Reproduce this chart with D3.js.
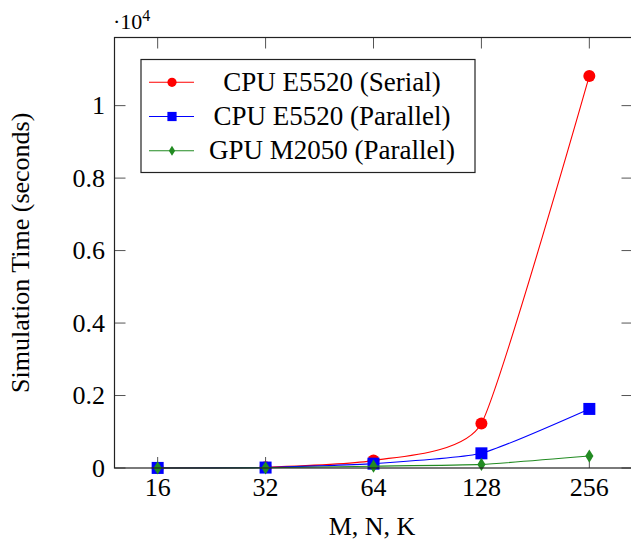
<!DOCTYPE html>
<html>
<head>
<meta charset="utf-8">
<script src="https://cdn.jsdelivr.net/npm/d3@7"></script>
<style>
  body { margin: 0; background: white; }
  text { font-family: "Liberation Serif", "DejaVu Serif", serif; fill: #000; }
</style>
</head>
<body>
<div id="container"></div>
<script>
var w = 631;
var h = 542;

// data (seconds)
var sizes = [16, 32, 64, 128, 256];
var cpuSerial = [3, 20, 210, 1230, 10820];
var cpuParallel = [2, 12, 120, 405, 1630];
var gpuParallel = [1, 5, 50, 100, 330];
var yTicks = [0, 2000, 4000, 6000, 8000, 10000];
var seriesNames = ["CPU E5520 (Serial)", "CPU E5520 (Parallel)", "GPU M2050 (Parallel)"];

var series = [
  {name: seriesNames[0], values: cpuSerial, color: "#ff0000", mark: "circle"},
  {name: seriesNames[1], values: cpuParallel, color: "#0000ff", mark: "square"},
  {name: seriesNames[2], values: gpuParallel, color: "#228b22", mark: "diamond"}
];

var axL = 114.5, axR = 632.5, axT = 37.5, axB = 468;

var svg = d3.select("#container").append("svg")
  .attr("width", w).attr("height", h);

var x = d3.scaleLinear()
  .domain([Math.log2(16) - 0.4, Math.log2(256) + 0.4])
  .range([axL, axR]);
var y = d3.scaleLinear()
  .domain([0, 11880])
  .range([axB, axT]);

// ticks inside on all four sides
var g = svg.append("g");
var tickLen = 11;
g.selectAll("line.xb").data(sizes).enter().append("line")
  .attr("x1", function(d) { return x(Math.log2(d)); })
  .attr("x2", function(d) { return x(Math.log2(d)); })
  .attr("y1", axB).attr("y2", axB - tickLen)
  .attr("stroke", "#555").attr("stroke-width", 1);
g.selectAll("line.xt").data(sizes).enter().append("line")
  .attr("x1", function(d) { return x(Math.log2(d)); })
  .attr("x2", function(d) { return x(Math.log2(d)); })
  .attr("y1", axT).attr("y2", axT + tickLen)
  .attr("stroke", "#555").attr("stroke-width", 1);
g.selectAll("line.yl").data(yTicks).enter().append("line")
  .attr("x1", axL).attr("x2", axL + tickLen)
  .attr("y1", function(d) { return y(d); })
  .attr("y2", function(d) { return y(d); })
  .attr("stroke", "#555").attr("stroke-width", 1);
g.selectAll("line.yr").data(yTicks).enter().append("line")
  .attr("x1", axR).attr("x2", axR - tickLen)
  .attr("y1", function(d) { return y(d); })
  .attr("y2", function(d) { return y(d); })
  .attr("stroke", "#555").attr("stroke-width", 1);

// tick labels
g.selectAll("text.xl").data(sizes).enter().append("text")
  .attr("x", function(d) { return x(Math.log2(d)); })
  .attr("y", 496)
  .attr("text-anchor", "middle")
  .attr("font-size", 26)
  .text(function(d) { return d; });
g.selectAll("text.yl").data(yTicks).enter().append("text")
  .attr("x", 105)
  .attr("y", function(d) { return y(d) + 8.5; })
  .attr("text-anchor", "end")
  .attr("font-size", 26)
  .text(function(d) { return d === 0 ? "0" : d3.format(".1f")(d / 10000).replace(/\.0$/, ""); });

// scale factor
var sf = svg.append("text").attr("x", 113).attr("y", 29).attr("font-size", 22);
sf.append("tspan").text("·10");
sf.append("tspan").attr("font-size", 16).attr("dy", -8).text("4");

// axis titles
svg.append("text")
  .attr("x", 372).attr("y", 535)
  .attr("text-anchor", "middle")
  .attr("font-size", 26)
  .text("M, N, K");
svg.append("text")
  .attr("transform", "translate(29," + ((axT + axB) / 2) + ") rotate(-90)")
  .attr("text-anchor", "middle")
  .attr("font-size", 26)
  .text("Simulation Time (seconds)");

// lines and markers
var line = d3.line()
  .x(function(d, i) { return x(Math.log2(sizes[i])); })
  .y(function(d) { return y(d); })
  .curve(d3.curveCardinal.tension(0.5));

function drawMark(sel, mark, color, s) {
  if (mark === "circle") {
    sel.append("circle").attr("r", s).attr("fill", color);
  } else if (mark === "square") {
    sel.append("rect").attr("x", -s).attr("y", -s).attr("width", 2 * s).attr("height", 2 * s).attr("fill", color);
  } else {
    sel.append("path").attr("d", "M0," + (-s * 1.1) + "L" + (s * 0.68) + ",0L0," + (s * 1.1) + "L" + (-s * 0.68) + ",0Z").attr("fill", color);
  }
}

var plot = svg.append("g");
series.forEach(function(s) {
  plot.append("path")
    .attr("d", line(s.values))
    .attr("fill", "none")
    .attr("stroke", s.color)
    .attr("stroke-width", 1.1);
  s.values.forEach(function(v, i) {
    var m = plot.append("g").attr("transform", "translate(" + x(Math.log2(sizes[i])) + "," + y(v) + ")");
    drawMark(m, s.mark, s.color, 6);
  });
});

// axis box
svg.append("rect")
  .attr("x", axL).attr("y", axT)
  .attr("width", axR - axL).attr("height", axB - axT)
  .attr("fill", "none").attr("stroke", "#222").attr("stroke-width", 1.2);

// legend
var lg = svg.append("g");
lg.append("rect")
  .attr("x", 141).attr("y", 59.5).attr("width", 334).attr("height", 113)
  .attr("fill", "white").attr("stroke", "#222").attr("stroke-width", 1.2);
var rowY = d3.scalePoint().domain(seriesNames).range([82.3, 150.7]);
series.forEach(function(s) {
  var ry = rowY(s.name);
  lg.append("line").attr("x1", 149).attr("x2", 194).attr("y1", ry).attr("y2", ry)
    .attr("stroke", s.color).attr("stroke-width", 1.1);
  var m = lg.append("g").attr("transform", "translate(172," + ry + ")");
  drawMark(m, s.mark, s.color, 4.6);
  lg.append("text").attr("x", 332).attr("y", ry + 8.5)
    .attr("text-anchor", "middle").attr("font-size", 27)
    .text(s.name);
});
</script>
</body>
</html>
